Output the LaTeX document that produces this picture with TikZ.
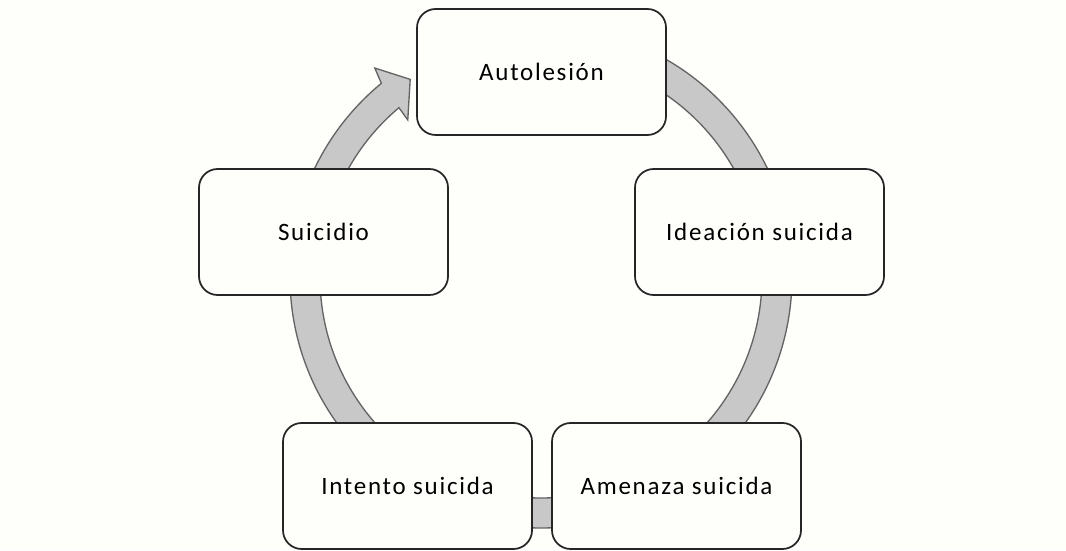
\documentclass[tikz,border=0pt]{standalone}
\usepackage{fontspec}
\setmainfont{Carlito}[LetterSpace=7]
\usepackage{tikz}
\usetikzlibrary{positioning}
\definecolor{bandfill}{RGB}{200,200,200}
\definecolor{banddraw}{RGB}{100,100,100}
\definecolor{paper}{RGB}{254,254,251}

\begin{document}
\begin{tikzpicture}[x=0.75pt,y=0.75pt,on grid,
	box/.style={draw=black!85,line width=1.3pt,fill=paper,rounded corners=14pt,
		minimum width=186.75pt,minimum height=94.5pt,font=\fontsize{18.75}{22}\selectfont},
	band/.style={draw=banddraw,line width=1pt,fill=bandfill}]
				\fill[paper] (0,0) rectangle (1066,550);
				\useasboundingbox (0,0) rectangle (1066,550);
				\coordinate (c) at (541,273);
				% cycle band behind the boxes
				\draw[band,shift={(c)}] (129.5:251) arc[start angle=129.5,end angle=450,radius=251]
					-- (450:221) arc[start angle=450,end angle=130,radius=221]
					-- (130.3:206) -- (123.5:237) -- (128.5:267) -- cycle;
				\node[box] (autolesion) at (541.5,478) {Autolesión};
				\node[box] (ideacion) [below right=120pt and 163.5pt of autolesion] {Ideación suicida};
				\node[box] (suicidio) [below left=120pt and 163.5pt of autolesion] {Suicidio};
				\node[box] (amenaza) [below right=310.5pt and 101.25pt of autolesion] {Amenaza suicida};
				\node[box] (intento) [below left=310.5pt and 100.5pt of autolesion] {Intento suicida};
			\end{tikzpicture}
\end{document}
